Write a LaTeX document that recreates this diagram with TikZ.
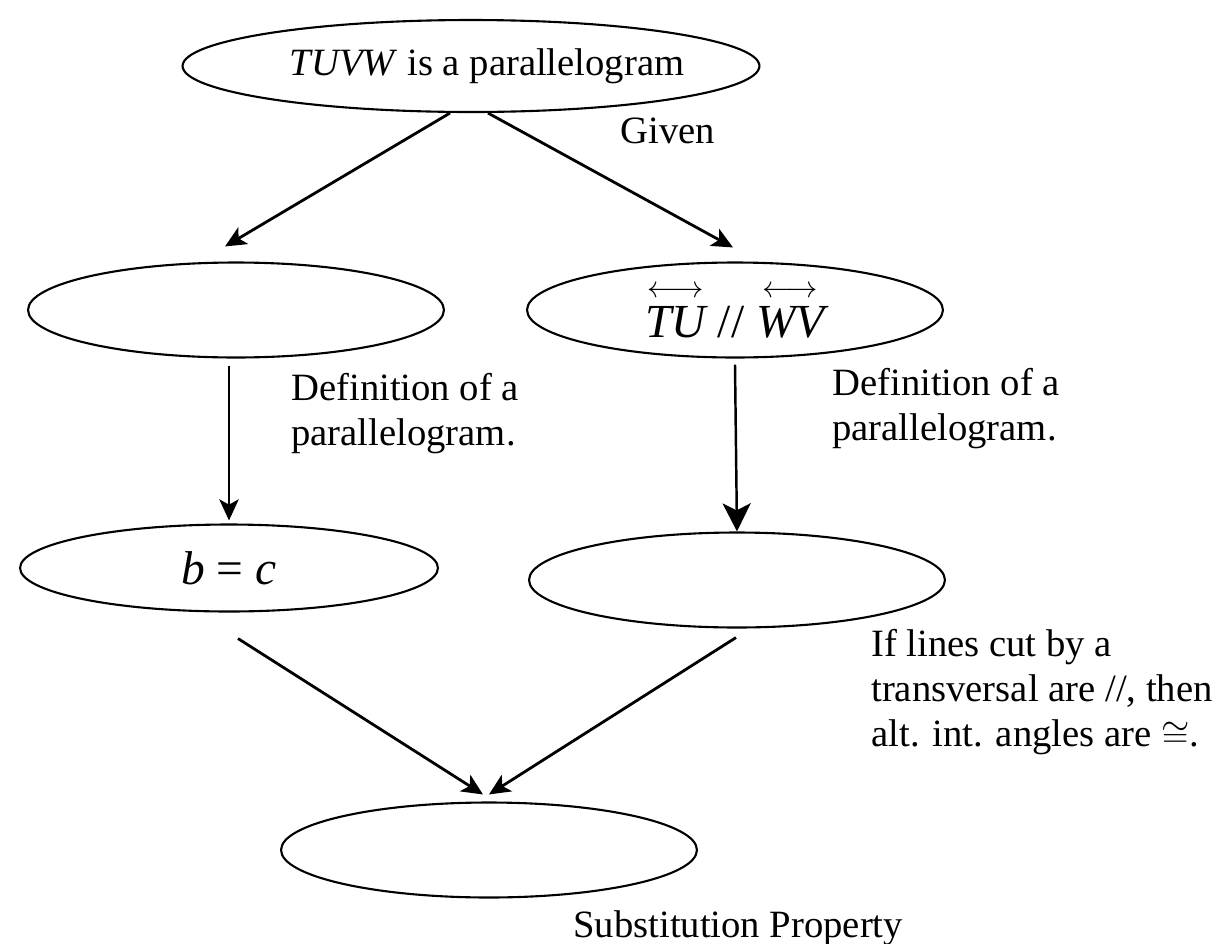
\documentclass[tikz,border=0pt]{standalone}
\usepackage{fontspec}
\setmainfont{Liberation Serif}
\usepackage{amsmath}
\usetikzlibrary{arrows.meta, calc, shapes.geometric}

\begin{document}
\begin{tikzpicture}[x=0.02cm, y=-0.02cm, font=\fontsize{22}{25.6}\selectfont,
  oval/.style={draw, ellipse, line width=1.2pt, inner sep=0pt,
    minimum width=8.32cm, minimum height=1.9cm},
  arr/.style={-{Stealth[length=12pt, width=11pt, inset=3pt]}, line width=1.6pt},
  note/.style={anchor=north west, align=left, inner sep=0pt},
  big/.style={font=\fontsize{27}{30}\selectfont}]

  \useasboundingbox (0,0) rectangle (1215,944);

  % ---- Ovals ----
  \node[oval, minimum width=11.54cm, minimum height=1.84cm] (given) at (471,66)
    {\hspace*{0.32cm}\textit{TUVW} is a parallelogram\hspace*{-0.32cm}};
  \node[oval] (defl) at (236,310) {};
  \node[oval, big] (par) at (735,310)
    {$\overset{\longleftrightarrow}{\textit{TU}}$ // $\overset{\longleftrightarrow}{\textit{WV}}$};
  \node[oval, big, minimum width=8.36cm, minimum height=1.74cm] (bc) at (229,568)
    {\textit{b} = \textit{c}};
  \node[oval] (ang) at (737,580) {};
  \node[oval] (sub) at (489,850) {};

  % ---- Reasons ----
  \node[anchor=base west, inner sep=0pt] (rgiven) at (620,143) {Given};
  \node[note] (rdefl) at (291,373) {Definition of a\\parallelogram.};
  \node[note] (rdefr) at (832,368) {Definition of a\\parallelogram.};
  \node[note] (rang) at (871,629)
    {If lines cut by a\\transversal are //, then\\alt. int. angles are $\cong$.};
  \node[anchor=base west, inner sep=0pt] (rsub) at (573,937) {Substitution Property};

  % ---- Arrows ----
  \draw[arr] ($(given.south)+(-21,0)$) -- ($(defl.north)+(-11,-15)$);
  \draw[arr] ($(given.south)+(17,0)$) -- ($(par.north)+(-2,-14)$);
  \draw[arr, line width=1.4pt] ($(defl.south)+(-7,7)$) -- ($(bc.north)+(0,-3)$);
  \draw[arr, line width=1.4pt, -{Stealth[length=16pt, width=16pt, inset=4pt]}]
    ($(par.south)+(0,6)$) -- (ang.north);
  \draw[arr] ($(bc.south)+(9,26)$) -- ($(sub.north)+(-6,-7)$);
  \draw[arr] ($(ang.south)+(-1,9)$) -- ($(sub.north)+(0,-7)$);

\end{tikzpicture}
\end{document}
